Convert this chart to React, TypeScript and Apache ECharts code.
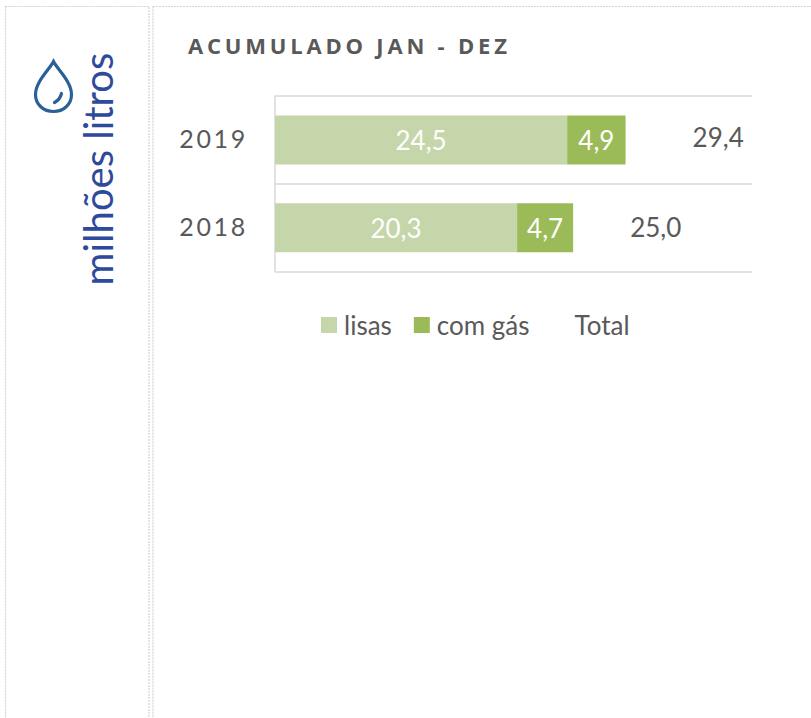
import React, { useEffect, useRef } from "react";
import * as echarts from "echarts";

const categories = ["2018", "2019"];
const lisas = [20.3, 24.5];
const comGas = [4.7, 4.9];
const totals = [25.0, 29.4];
const totalLabelGaps = [57, 67];
const totalLabelLift = [-1, -3];
const titleText = "ACUMULADO JAN - DEZ";
const unitText = "milhões litros";
const FONT = "Lato, Carlito, sans-serif";
const fmt = (v: number) => v.toFixed(1).replace(".", ",");

const dropPath =
  "M18 0 C14 8 0 20 0 33 C0 43 8 50 18 50 C28 50 36 43 36 33 C36 20 22 8 18 0 Z M26 32 C25 36 23 39 19 41";
echarts.graphic.registerShape("drop", echarts.graphic.extendPath(dropPath, {}));

export default function App() {
  const ref = useRef<HTMLDivElement>(null);
  useEffect(() => {
    const chart = echarts.init(ref.current!, undefined, { renderer: "svg" });
    const dash = { stroke: "#d4d4d4", lineWidth: 1.2, lineDash: [2, 1] };
    chart.setOption({
      animation: false,
      backgroundColor: "#ffffff",
      grid: { left: 275, right: 59, top: 96, height: 175.5, containLabel: false },
      xAxis: { type: "value", min: 0, max: 40, show: false },
      yAxis: {
        type: "category",
        data: categories,
        axisLine: { show: true, lineStyle: { color: "#d9d9d9", width: 1.5 } },
        axisTick: { show: false },
        axisLabel: { color: "#595959", fontFamily: FONT, fontSize: 25, margin: 27, verticalAlign: "bottom", lineHeight: 4 },
        splitLine: { show: true, lineStyle: { color: "#d9d9d9", width: 1.5 } },
      },
      legend: {
        data: ["lisas", "com gás", "Total"],
        left: 316,
        top: 307,
        itemWidth: 16,
        itemHeight: 16,
        itemGap: 22,
        icon: "rect",
        textStyle: { color: "#595959", fontFamily: FONT, fontSize: 26, padding: [0, 0, 4, 2] },
      },
      series: [
        {
          name: "lisas",
          type: "bar",
          stack: "a",
          barWidth: 49,
          data: lisas,
          itemStyle: { color: "#c5d6ab" },
          label: { show: true, position: "inside", color: "#ffffff", fontFamily: FONT, fontSize: 26, formatter: (p: any) => fmt(p.value) },
        },
        {
          name: "com gás",
          type: "bar",
          stack: "a",
          barWidth: 49,
          data: comGas,
          itemStyle: { color: "#9bbb59" },
          label: { show: true, position: "inside", color: "#ffffff", fontFamily: FONT, fontSize: 26, formatter: (p: any) => fmt(p.value) },
        },
        {
          name: "Total",
          type: "bar",
          stack: "a",
          barWidth: 49,
          itemStyle: { color: "rgba(0,0,0,0)" },
          data: totals.map((v, i) => ({
            value: v,
            label: { distance: totalLabelGaps[i], offset: [0, totalLabelLift[i]] },
          })),
          label: { show: true, position: "insideLeft", color: "#595959", fontFamily: FONT, fontSize: 26, formatter: (p: any) => fmt(p.value) },
        },
      ],
      graphic: [
        { type: "rect", shape: { x: 5.5, y: 6.5, width: 143.5, height: 720 }, style: { fill: "none", ...dash } },
        { type: "rect", shape: { x: 153, y: 6.5, width: 700, height: 720 }, style: { fill: "none", ...dash } },
        { type: "drop", x: 35.5, y: 61.5, style: { fill: "none", stroke: "#2a6099", lineWidth: 3.2, lineCap: "round" } },
        {
          type: "text",
          x: 98,
          y: 169,
          rotation: Math.PI / 2,
          style: { text: unitText, fill: "#2e4b9b", font: `40px ${FONT}`, align: "center", verticalAlign: "middle" },
        },
        {
          type: "text",
          x: 188,
          y: 45,
          style: { text: titleText, fill: "#595959", font: `bold 22px "Open Sans"`, align: "left", verticalAlign: "middle" },
        },
      ],
    });
    ref.current!.querySelectorAll("text").forEach((t) => {
      const s = t.textContent || "";
      if (s === titleText) (t as any).style.letterSpacing = "3.8px";
      else if (categories.includes(s)) (t as any).style.letterSpacing = "2.7px";
    });
    return () => chart.dispose();
  }, []);
  return <div ref={ref} style={{ position: "fixed", left: 0, top: 0, width: 811, height: 718 }} />;
}
